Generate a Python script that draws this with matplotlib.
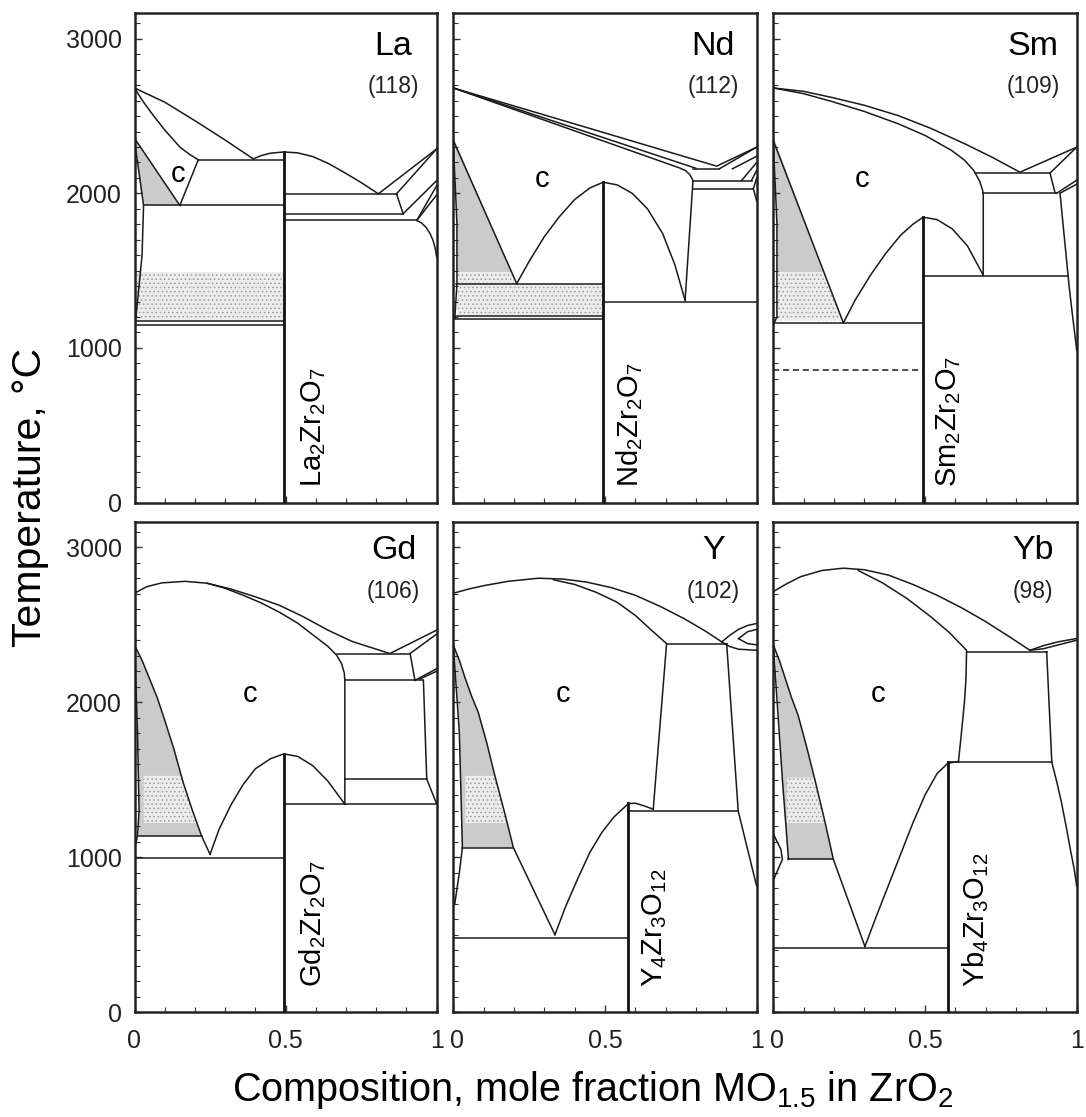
import matplotlib
matplotlib.use("Agg")
import matplotlib.pyplot as plt
from matplotlib import font_manager as fm
from matplotlib.ticker import MultipleLocator, FixedLocator, FixedFormatter
from matplotlib.patches import Polygon

# ---------------- data (x = mole fraction MO1.5, T in deg C) ----------------
SYMBOLS = ["La", "Nd", "Sm", "Gd", "Y", "Yb"]
RADII = ["(118)", "(112)", "(109)", "(106)", "(102)", "(98)"]
COMPOUNDS = ["La$_2$Zr$_2$O$_7$", "Nd$_2$Zr$_2$O$_7$", "Sm$_2$Zr$_2$O$_7$",
             "Gd$_2$Zr$_2$O$_7$", "Y$_4$Zr$_3$O$_{12}$", "Yb$_4$Zr$_3$O$_{12}$"]
COMPOUND_X = [0.495, 0.494, 0.494, 0.494, 0.577, 0.575]
COMPOUND_TOP = [2268, 2072, 1846, 1666, 1350, 1615]
C_LABEL_POS = [(0.145, 2126), (0.291, 2094), (0.291, 2094), (0.382, 2054), (0.363, 2054), (0.346, 2054)]
COMPOUND_LABEL_X = [0.592, 0.582, 0.577, 0.588, 0.665, 0.667]
X_TICKS = [0, 0.5, 1]
X_TICK_LABELS = ["0", "0.5", "1"]
Y_TICKS = [0, 1000, 2000, 3000]

LA_LINES = [
    [(0, 2682), (0.10, 2590), (0.20, 2470), (0.30, 2345), (0.393, 2223)],
    [(0.393, 2223), (0.42, 2245), (0.45, 2260), (0.495, 2268), (0.54, 2262), (0.59, 2238),
     (0.64, 2195), (0.69, 2140), (0.75, 2070), (0.807, 1997), (1.0, 2288)],
    [(0, 2682), (0.015, 2635), (0.03, 2590), (0.06, 2510), (0.10, 2410), (0.15, 2300),
     (0.18, 2255), (0.211, 2217)],
    [(0.211, 2217), (0.495, 2217)],
    [(0.211, 2217), (0.150, 1922)],
    [(0.005, 2342), (0.150, 1922)],
    [(0.03, 1922), (0.495, 1922)],
    [(0.0, 2342), (0.03, 1922), (0.025, 1600), (0.01, 1300), (0.003, 1168)],
    [(0, 1175), (0.495, 1175)],
    [(0, 1150), (0.495, 1150)],
    [(0.867, 1997), (1.0, 2288)],
    [(0.495, 1997), (0.867, 1997)],
    [(0.867, 1997), (0.889, 1868)],
    [(0.495, 1868), (0.889, 1868)],
    [(0.495, 1825), (0.934, 1825)],
    [(0.889, 1868), (1.0, 2083)],
    [(0.934, 1825), (1.0, 2050)],
    [(0.934, 1825), (1.0, 1990)],
    [(0.934, 1825), (0.95, 1808), (0.965, 1780), (0.978, 1740), (0.988, 1695), (0.995, 1645), (1.0, 1588)],
]
LA_GRAY = [[(0.003, 2342), (0.150, 1922), (0.03, 1922), (0.015, 2150)]]
LA_DOTS = [[(0.005, 1179), (0.495, 1179), (0.495, 1491), (0.005, 1491)]]
LA_DASHED = []

ND_LINES = [
    [(0, 2682), (0.45, 2420), (0.868, 2176), (1.0, 2299)],
    [(0, 2682), (0.80, 2162)],
    [(0, 2682), (0.745, 2165), (0.765, 2148), (0.78, 2120), (0.79, 2083), (0.764, 1308)],
    [(0.791, 2159), (0.877, 2159)],
    [(0.791, 2083), (0.983, 2083)],
    [(0.791, 2030), (0.989, 2030)],
    [(0.877, 2159), (1.0, 2299)],
    [(0.92, 2159), (1.0, 2240)],
    [(0.95, 2083), (1.0, 2200)],
    [(0.983, 2083), (1.0, 2150)],
    [(0.989, 2030), (1.0, 2100)],
    [(0.989, 2030), (1.0, 1950)],
    [(0.209, 1416), (0.25, 1560), (0.30, 1720), (0.35, 1850), (0.40, 1960), (0.45, 2035), (0.494, 2072),
     (0.54, 2055), (0.59, 2000), (0.64, 1900), (0.69, 1740), (0.73, 1540), (0.764, 1308)],
    [(0, 2342), (0.209, 1416)],
    [(0.01, 1416), (0.494, 1416)],
    [(0, 1205), (0.494, 1205)],
    [(0, 1190), (0.494, 1190)],
    [(0, 2342), (0.012, 1800), (0.012, 1416), (0.005, 1190)],
    [(0.494, 1297), (1.0, 1297)],
]
ND_GRAY = [[(0.005, 2342), (0.192, 1491), (0.012, 1491), (0.012, 1800)]]
ND_DOTS = [[(0.012, 1491), (0.192, 1491), (0.209, 1416), (0.012, 1416)],
           [(0.012, 1211), (0.494, 1211), (0.494, 1405), (0.012, 1405)]]
ND_DASHED = []

SM_LINES = [
    [(0, 2682), (0.1, 2660), (0.192, 2621), (0.30, 2570), (0.412, 2503), (0.52, 2420), (0.632, 2320),
     (0.72, 2235), (0.813, 2137), (1.0, 2299)],
    [(0, 2682), (0.1, 2645), (0.192, 2595), (0.30, 2530), (0.412, 2450), (0.50, 2375), (0.588, 2277),
     (0.63, 2215), (0.66, 2150), (0.68, 2080), (0.69, 2020), (0.692, 1990), (0.692, 1470)],
    [(0.665, 2131), (0.912, 2131)],
    [(0.692, 2001), (0.934, 2001)],
    [(0.912, 2131), (1.0, 2299)],
    [(0.912, 2131), (0.929, 2001)],
    [(0.934, 2001), (1.0, 2085)],
    [(0.945, 2001), (1.0, 2060)],
    [(0.945, 2001), (0.955, 1800), (0.965, 1600), (0.975, 1400), (0.985, 1230), (0.993, 1100), (1.0, 985)],
    [(0.494, 1463), (0.972, 1463)],
    [(0.231, 1162), (0.27, 1310), (0.32, 1470), (0.37, 1610), (0.42, 1730), (0.46, 1800), (0.494, 1846),
     (0.54, 1830), (0.59, 1770), (0.64, 1660), (0.692, 1470)],
    [(0, 2342), (0.231, 1162)],
    [(0, 1162), (0.494, 1162)],
    [(0, 2342), (0.012, 1800), (0.012, 1200), (0.0, 1150)],
]
SM_GRAY = [[(0.005, 2342), (0.167, 1491), (0.012, 1491), (0.012, 1800)]]
SM_DOTS = [[(0.012, 1491), (0.167, 1491), (0.228, 1179), (0.012, 1179)]]
SM_DASHED = [[(0, 856), (0.494, 856)]]

GD_LINES = [
    [(0, 2703), (0.04, 2745), (0.09, 2770), (0.167, 2780), (0.24, 2768), (0.32, 2730), (0.40, 2680),
     (0.48, 2625), (0.56, 2550), (0.64, 2465), (0.72, 2392), (0.845, 2314), (1.0, 2465)],
    [(0.24, 2768), (0.30, 2735), (0.36, 2690), (0.42, 2640), (0.48, 2580), (0.54, 2510), (0.60, 2420),
     (0.64, 2360), (0.669, 2303), (0.685, 2250), (0.694, 2190), (0.696, 2141), (0.696, 1342)],
    [(0.669, 2314), (0.912, 2314)],
    [(0.696, 2141), (0.956, 2141)],
    [(0.912, 2314), (0.928, 2141)],
    [(0.912, 2314), (1.0, 2440)],
    [(0.928, 2141), (1.0, 2216)],
    [(0.945, 2150), (1.0, 2200)],
    [(0.956, 2141), (0.967, 1504), (1.0, 1342)],
    [(0.696, 1504), (0.967, 1504)],
    [(0.494, 1342), (1.0, 1342)],
    [(0.25, 1018), (0.28, 1180), (0.32, 1340), (0.36, 1470), (0.40, 1570), (0.45, 1635), (0.494, 1666),
     (0.54, 1650), (0.59, 1590), (0.64, 1490), (0.696, 1342)],
    [(0, 2368), (0.025, 2270), (0.05, 2150), (0.075, 2030), (0.095, 1914), (0.13, 1700), (0.161, 1482),
     (0.19, 1310), (0.222, 1136), (0.25, 1018)],
    [(0.015, 1136), (0.222, 1136)],
    [(0, 996), (0.494, 996)],
    [(0, 2368), (0.01, 1800), (0.015, 1300), (0.01, 1136), (0.0, 1050)],
]
GD_GRAY = [[(0.003, 2368), (0.025, 2270), (0.05, 2150), (0.075, 2030), (0.095, 1914), (0.13, 1700),
            (0.161, 1482), (0.19, 1310), (0.222, 1136), (0.015, 1136), (0.015, 1300), (0.01, 1800)]]
GD_DOTS = [[(0.03, 1525), (0.155, 1525), (0.161, 1482), (0.19, 1310), (0.206, 1220), (0.03, 1220)]]
GD_DASHED = []

Y_LINES = [
    [(0, 2703), (0.05, 2730), (0.10, 2752), (0.18, 2780), (0.28, 2800), (0.36, 2795), (0.44, 2775),
     (0.52, 2740), (0.60, 2690), (0.68, 2620), (0.76, 2540), (0.83, 2460), (0.885, 2389)],
    [(0.885, 2389), (0.91, 2430), (0.94, 2470), (0.97, 2495), (1.0, 2508)],
    [(0.885, 2389), (0.91, 2360), (0.94, 2342), (1.0, 2335)],
    [(0.94, 2410), (0.97, 2455), (1.0, 2470)],
    [(0.94, 2410), (0.97, 2378), (1.0, 2370)],
    [(0.33, 2790), (0.40, 2760), (0.47, 2710), (0.54, 2645), (0.60, 2560), (0.65, 2470), (0.703, 2378)],
    [(0.703, 2378), (0.901, 2378)],
    [(0.703, 2378), (0.659, 1309)],
    [(0.901, 2378), (0.939, 1298), (0.955, 1170), (0.97, 1050), (0.985, 930), (1.0, 812)],
    [(0.577, 1298), (0.939, 1298)],
    [(0.335, 499), (0.37, 680), (0.41, 860), (0.45, 1030), (0.49, 1160), (0.53, 1260), (0.577, 1345),
     (0.60, 1348), (0.63, 1330), (0.659, 1309)],
    [(0, 2368), (0.02, 2270), (0.04, 2150), (0.06, 2040), (0.082, 1936), (0.11, 1740), (0.137, 1525),
     (0.17, 1280), (0.198, 1061), (0.335, 499)],
    [(0.03, 1061), (0.198, 1061)],
    [(0, 477), (0.577, 477)],
    [(0, 2368), (0.02, 1800), (0.03, 1061), (0.02, 900), (0.005, 700)],
]
Y_GRAY = [[(0.003, 2368), (0.02, 2270), (0.04, 2150), (0.06, 2040), (0.082, 1936), (0.11, 1740),
           (0.137, 1525), (0.17, 1280), (0.198, 1061), (0.03, 1061), (0.02, 1800)]]
Y_DOTS = [[(0.039, 1525), (0.137, 1525), (0.17, 1280), (0.178, 1220), (0.039, 1220)]]
Y_DASHED = []

YB_LINES = [
    [(0, 2714), (0.04, 2760), (0.09, 2810), (0.16, 2850), (0.231, 2865), (0.30, 2855), (0.38, 2820),
     (0.46, 2760), (0.54, 2690), (0.62, 2610), (0.70, 2520), (0.78, 2420), (0.846, 2335)],
    [(0.846, 2335), (0.89, 2365), (0.94, 2390), (1.0, 2411)],
    [(0.846, 2335), (0.89, 2345), (0.94, 2370), (1.0, 2400)],
    [(0.28, 2850), (0.36, 2770), (0.44, 2670), (0.52, 2550), (0.58, 2450), (0.637, 2335)],
    [(0.637, 2325), (0.901, 2325)],
    [(0.637, 2325), (0.635, 2150), (0.63, 2000), (0.62, 1800), (0.61, 1612)],
    [(0.901, 2325), (0.918, 1612), (0.935, 1480), (0.95, 1350), (0.965, 1200), (0.98, 1040),
     (0.992, 920), (1.0, 812)],
    [(0.575, 1612), (0.918, 1612)],
    [(0.302, 423), (0.34, 620), (0.38, 820), (0.42, 1020), (0.46, 1220), (0.50, 1400), (0.54, 1540),
     (0.575, 1605), (0.61, 1618)],
    [(0, 2368), (0.02, 2270), (0.04, 2150), (0.06, 2030), (0.082, 1914), (0.11, 1710), (0.137, 1500),
     (0.17, 1230), (0.198, 985), (0.302, 423)],
    [(0.05, 985), (0.198, 985)],
    [(0, 413), (0.575, 413)],
    [(0, 2368), (0.03, 1500), (0.05, 985)],
    [(0.0, 1150), (0.025, 1050), (0.03, 985), (0.0, 850)],
]
YB_GRAY = [[(0.005, 2368), (0.02, 2270), (0.04, 2150), (0.06, 2030), (0.082, 1914), (0.11, 1710),
            (0.137, 1500), (0.17, 1230), (0.198, 985), (0.05, 985), (0.03, 1500)]]
YB_DOTS = [[(0.045, 1514), (0.135, 1514), (0.137, 1500), (0.17, 1230), (0.172, 1220), (0.045, 1220)]]
YB_DASHED = []

PANEL_LINES = [LA_LINES, ND_LINES, SM_LINES, GD_LINES, Y_LINES, YB_LINES]
PANEL_GRAY = [LA_GRAY, ND_GRAY, SM_GRAY, GD_GRAY, Y_GRAY, YB_GRAY]
PANEL_DOTS = [LA_DOTS, ND_DOTS, SM_DOTS, GD_DOTS, Y_DOTS, YB_DOTS]
PANEL_DASHED = [LA_DASHED, ND_DASHED, SM_DASHED, GD_DASHED, Y_DASHED, YB_DASHED]

# ---------------- styling ----------------
names = {f.name for f in fm.fontManager.ttflist}
HAS_NARROW = "Liberation Sans Narrow" in names
plt.rcParams["font.family"] = ["Liberation Sans", "DejaVu Sans"]
plt.rcParams["mathtext.default"] = "regular"
plt.rcParams["hatch.linewidth"] = 0.6

if HAS_NARROW:
    TICK_FONT = dict(family="Liberation Sans Narrow", size=21)
    RAD_FONT = dict(family="Liberation Sans Narrow", size=19.5)
else:
    TICK_FONT = dict(family="Liberation Sans", size=18)
    RAD_FONT = dict(family="Liberation Sans", size=16.5)

W, H = 1086, 1117
YMAX = 3165
fig = plt.figure(figsize=(W / 100, H / 100), dpi=100)
cols = [(134.5, 436.7), (453.3, 756.7), (773.3, 1076.7)]
rows = [(13.3, 502.5), (521.7, 1012.0)]
sym_y = [0.932, 0.942]
rad_y = [0.851, 0.857]
cmp_y = [102, 160]

for i in range(6):
    r, c = divmod(i, 3)
    (l, rr), (t, b) = cols[c], rows[r]
    ax = fig.add_axes([l / W, 1 - b / H, (rr - l) / W, (b - t) / H])
    ax.set_xlim(0, 1)
    ax.set_ylim(0, YMAX)

    for poly in PANEL_GRAY[i]:
        ax.add_patch(Polygon(poly, closed=True, facecolor="#cbcbcb", edgecolor="none", zorder=1))
    for poly in PANEL_DOTS[i]:
        ax.add_patch(Polygon(poly, closed=True, facecolor="#ececec", edgecolor="#9c9c9c",
                             linewidth=0, hatch="....", zorder=1.5))
    for ln in PANEL_LINES[i]:
        xs, ys = zip(*ln)
        ax.plot(xs, ys, color="#1a1a1a", lw=1.1, solid_joinstyle="round", zorder=3)
    for ln in PANEL_DASHED[i]:
        xs, ys = zip(*ln)
        ax.plot(xs, ys, color="#1a1a1a", lw=1.1, ls=(0, (4, 2.5)), zorder=3)
    ax.plot([COMPOUND_X[i], COMPOUND_X[i]], [0, COMPOUND_TOP[i]], color="#111111", lw=2.0, zorder=4)

    ax.text(0.857, sym_y[r], SYMBOLS[i], transform=ax.transAxes, ha="center", va="center", fontsize=24.5)
    ax.text(0.857, rad_y[r], RADII[i], transform=ax.transAxes, ha="center", va="center",
            color="#222222", fontfamily=RAD_FONT["family"], fontsize=RAD_FONT["size"])
    ax.text(C_LABEL_POS[i][0], C_LABEL_POS[i][1], "c", ha="center", va="center", fontsize=21)
    ax.text(COMPOUND_LABEL_X[i], cmp_y[r], COMPOUNDS[i], rotation=90, ha="center", va="bottom",
            fontsize=21)

    xlabels = list(X_TICK_LABELS)
    if c != 0:
        xlabels[0] = " " + xlabels[0]   # keep "1" and "0" of neighbouring panels apart
    ax.xaxis.set_major_locator(FixedLocator(X_TICKS))
    ax.xaxis.set_major_formatter(FixedFormatter(xlabels))
    ax.xaxis.set_minor_locator(MultipleLocator(0.1))
    ax.yaxis.set_major_locator(FixedLocator(Y_TICKS))
    ax.yaxis.set_minor_locator(MultipleLocator(100))
    ax.tick_params(which="both", direction="in", top=False, right=False, color="#333333")
    ax.tick_params(which="major", length=5, width=1.0)
    ax.tick_params(which="minor", length=3.5, width=0.8)
    ax.tick_params(axis="y", pad=9)
    ax.tick_params(axis="x", pad=12)
    for lab in ax.get_xticklabels() + ax.get_yticklabels():
        lab.set_fontfamily(TICK_FONT["family"])
        lab.set_fontsize(TICK_FONT["size"])
        lab.set_color("#222222")
    if c != 0:
        ax.tick_params(axis="y", labelleft=False)
    if r == 0:
        ax.tick_params(axis="x", labelbottom=False)
    for s in ax.spines.values():
        s.set_linewidth(1.8)
        s.set_color("#222222")

fig.text(30 / W, 1 - 497 / H, "Temperature, °C", rotation=90, ha="center", va="center", fontsize=29.5)
fig.text(593 / W, 16 / H, "Composition, mole fraction MO$_{1.5}$ in ZrO$_2$", ha="center",
         va="baseline", fontsize=28.5)

fig.savefig("out.png", dpi=100, facecolor="white")
